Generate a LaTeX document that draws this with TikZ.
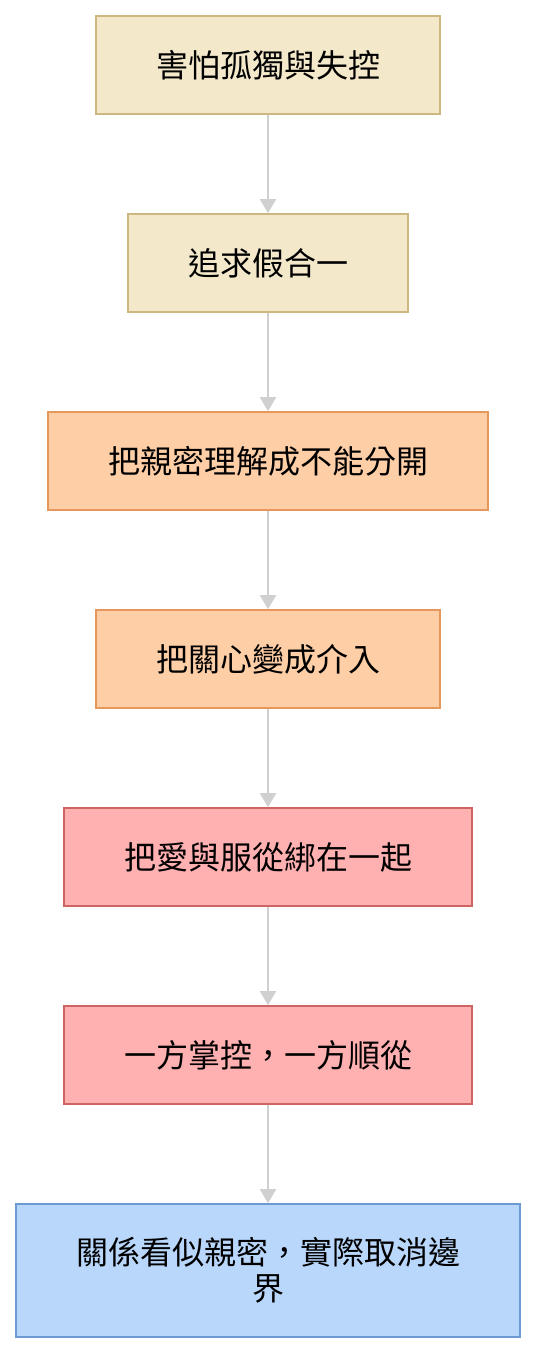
\documentclass[tikz,border=0pt]{standalone}
\usepackage{fontspec}
\newfontfamily\cjk{Noto Sans CJK TC}
\usetikzlibrary{arrows.meta}
\definecolor{beigef}{HTML}{F3E8CA}
\definecolor{beiged}{HTML}{CDB882}
\definecolor{orangef}{HTML}{FECFA6}
\definecolor{oranged}{HTML}{E6985A}
\definecolor{pinkf}{HTML}{FFB0B0}
\definecolor{pinkd}{HTML}{CD6565}
\definecolor{bluef}{HTML}{B9D7FB}
\definecolor{blued}{HTML}{6C9AD3}
\definecolor{arrowc}{HTML}{D0D0D0}
\begin{document}
\begin{tikzpicture}[x=1pt,y=-1pt,
  box/.style={draw, line width=1.6pt, rectangle, inner sep=0pt, align=center,
    font=\cjk\fontsize{32}{36}\selectfont, text=black},
  beige/.style={box, fill=beigef, draw=beiged},
  orange/.style={box, fill=orangef, draw=oranged},
  pink/.style={box, fill=pinkf, draw=pinkd},
  blue/.style={box, fill=bluef, draw=blued},
  conn/.style={draw=arrowc, line width=2pt, -{Triangle[width=16pt,length=14pt]}}]
\useasboundingbox (0,0) rectangle (536,1354);
\node[beige, minimum width=344pt, minimum height=98pt] (n1) at (268,65) {害怕孤獨與失控};
\node[beige, minimum width=280pt, minimum height=98pt] (n2) at (268,263) {追求假合一};
\node[orange, minimum width=440pt, minimum height=98pt] (n3) at (268,461) {把親密理解成不能分開};
\node[orange, minimum width=344pt, minimum height=98pt] (n4) at (268,659) {把關心變成介入};
\node[pink, minimum width=408pt, minimum height=98pt] (n5) at (268,857) {把愛與服從綁在一起};
\node[pink, minimum width=408pt, minimum height=98pt] (n6) at (268,1055) {一方掌控，一方順從};
\node[blue, minimum width=504pt, minimum height=133pt] (n7) at (268,1270.5) {關係看似親密，實際取消邊\\界};
\draw[conn] (n1) -- (n2);
\draw[conn] (n2) -- (n3);
\draw[conn] (n3) -- (n4);
\draw[conn] (n4) -- (n5);
\draw[conn] (n5) -- (n6);
\draw[conn] (n6) -- (n7);
\end{tikzpicture}
\end{document}
